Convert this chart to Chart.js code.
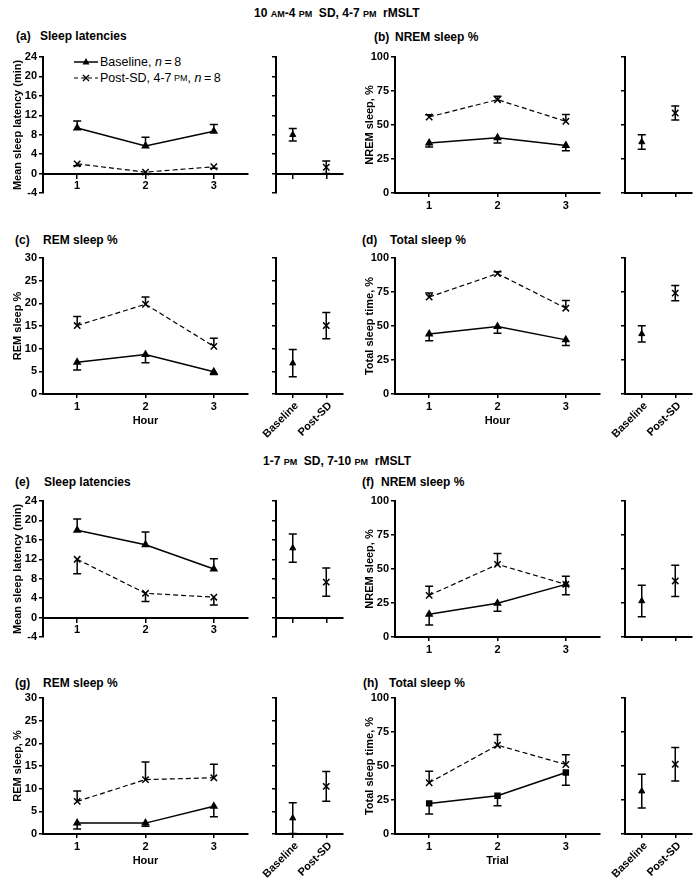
<!DOCTYPE html>
<html>
<head>
<meta charset="utf-8">
<script src="https://cdn.jsdelivr.net/npm/chart.js@4/dist/chart.umd.min.js"></script>
<style>
  body { margin: 0; background: #fff; width: 699px; height: 887px; position: relative; overflow: hidden;
         font-family: "Liberation Sans", Arial, sans-serif; }
  canvas { position: absolute; }
  .t { position: absolute; font-weight: bold; font-size: 12px; line-height: 14px; white-space: nowrap; }
  .sc { font-size: 9px; }
  .leg { position: absolute; left: 74px; font-size: 12.5px; line-height: 14px; white-space: nowrap; display: flex; align-items: center; }
  .leg svg { margin-right: 2px; }
</style>
</head>
<body>

<div class="t" style="left:254px;top:6px">10 <span class="sc">AM</span>-4 <span class="sc">PM</span>&nbsp; SD, 4-7 <span class="sc">PM</span>&nbsp; rMSLT</div>
<div class="t" style="left:263px;top:454px">1-7 <span class="sc">PM</span>&nbsp; SD, 7-10 <span class="sc">PM</span>&nbsp; rMSLT</div>

<div class="t" style="left:16px;top:29px">(a)</div><div class="t" style="left:40px;top:29px">Sleep latencies</div>
<div class="t" style="left:374px;top:30px">(b)</div><div class="t" style="left:395px;top:30px">NREM sleep %</div>
<div class="t" style="left:15px;top:233px">(c)</div><div class="t" style="left:43px;top:233px">REM sleep %</div>
<div class="t" style="left:362px;top:233px">(d)</div><div class="t" style="left:390px;top:233px">Total sleep %</div>
<div class="t" style="left:15px;top:475px">(e)</div><div class="t" style="left:44px;top:475px">Sleep latencies</div>
<div class="t" style="left:362px;top:475px">(f)</div><div class="t" style="left:381px;top:475px">NREM sleep %</div>
<div class="t" style="left:15px;top:676px">(g)</div><div class="t" style="left:43px;top:676px">REM sleep %</div>
<div class="t" style="left:363px;top:676px">(h)</div><div class="t" style="left:389px;top:676px">Total sleep %</div>

<div class="leg" style="top:55px">
  <svg width="24" height="10"><line x1="0" y1="5" x2="24" y2="5" stroke="#000" stroke-width="1.5"/><polygon points="12,1 15.5,7.5 8.5,7.5" fill="#000"/></svg>Baseline, <i>&nbsp;n</i>&thinsp;=&thinsp;8
</div>
<div class="leg" style="top:71px">
  <svg width="24" height="10"><line x1="0" y1="5" x2="24" y2="5" stroke="#000" stroke-width="1.2" stroke-dasharray="4,3"/><path d="M9,2 L15,8 M15,2 L9,8" stroke="#000" stroke-width="1.4"/></svg>Post-SD, 4-7 <span class="sc">&nbsp;PM</span>, <i>&nbsp;n</i>&thinsp;=&thinsp;8
</div>

<script>
// x categories
const hours = ['1', '2', '3'];
const groups = ['Baseline', 'Post-SD'];

// (a) sleep latencies, 10am-4pm SD
const aBase = [9.4, 5.7, 8.7];    const aBaseErr = [1.4, 1.8, 1.4];
const aPost = [2.0, 0.3, 1.4];    const aPostErr = [0.4, 0.3, 0.3];
const aSide = [8.0, 1.3];         const aSideErr = [1.3, 1.3];
// (b) NREM %
const bBase = [36.8, 40.7, 35.0]; const bBaseErr = [3, 4, 4];
const bPost = [55.9, 68.6, 52.7]; const bPostErr = [1.7, 2.5, 5];
const bSide = [37.5, 58.8];       const bSideErr = [5.3, 5.2];
// (c) REM %
const cBase = [7.0, 8.7, 4.9];    const cBaseErr = [1.7, 1.8, 0.6];
const cPost = [15.1, 19.8, 10.5]; const cPostErr = [2.0, 1.6, 1.8];
const cSide = [6.8, 15.1];        const cSideErr = [3.0, 2.9];
// (d) total sleep %
const dBase = [44.2, 49.6, 39.8]; const dBaseErr = [5, 5, 4.2];
const dPost = [71.3, 88.5, 63.1]; const dPostErr = [3, 1.3, 5.6];
const dSide = [44.2, 74.2];       const dSideErr = [6, 5.6];
// (e) sleep latencies, 1-7pm SD
const eBase = [18, 15, 10];       const eBaseErr = [2.3, 2.6, 2.1];
const ePost = [12, 5, 4.2];       const ePostErr = [3, 1.7, 1.6];
const eSide = [14.3, 7.3];        const eSideErr = [2.9, 2.9];
// (f) NREM %
const fBase = [16.7, 24.8, 38.7]; const fBaseErr = [7.9, 5.9, 7.6];
const fPost = [30.6, 53.4, 38.7]; const fPostErr = [6.7, 8, 6];
const fSide = [26.5, 41.2];       const fSideErr = [11.6, 11.5];
// (g) REM %
const gBase = [2.4, 2.4, 6.1];    const gBaseErr = [1.3, 0.7, 2.3];
const gPost = [7.2, 12.0, 12.4];  const gPostErr = [2.3, 3.9, 3.0];
const gSide = [3.5, 10.5];        const gSideErr = [3.4, 3.3];
// (h) total sleep %
const hBase = [22.5, 28.1, 45.2]; const hBaseErr = [7.8, 7.3, 9.3];
const hPost = [37.7, 65.3, 51.1]; const hPostErr = [8.5, 7.8, 7.1];
const hSide = [31.5, 51.3];       const hSideErr = [12.4, 12.3];

const FONT = '"Liberation Sans", Arial, sans-serif';
Chart.defaults.font.family = FONT;
Chart.defaults.color = '#000';

const AREA_H = 136;
const BOLD11 = { size: 11, weight: 'bold' };

// draws SEM bars; errDir 1 = up only, -1 = down only, 0 = both
const errorBars = {
  id: 'errorBars',
  afterDatasetsDraw(chart) {
    const ctx = chart.ctx, ys = chart.scales.y;
    chart.data.datasets.forEach((ds, di) => {
      if (!ds.err) return;
      const meta = chart.getDatasetMeta(di);
      ctx.save();
      ctx.strokeStyle = '#000';
      ctx.lineWidth = 1.5;
      ds.data.forEach((v, i) => {
        const e = ds.err[i], x = meta.data[i].x;
        const hi = ds.errDir >= 0 ? v + e : v;
        const lo = ds.errDir <= 0 ? v - e : v;
        const yHi = ys.getPixelForValue(hi), yLo = ys.getPixelForValue(lo);
        ctx.beginPath();
        ctx.moveTo(x, yHi); ctx.lineTo(x, yLo);
        if (hi !== v) { ctx.moveTo(x - 4, yHi); ctx.lineTo(x + 4, yHi); }
        if (lo !== v) { ctx.moveTo(x - 4, yLo); ctx.lineTo(x + 4, yLo); }
        ctx.stroke();
      });
      ctx.restore();
    });
  }
};

// 45 degree category labels under the side panels
const slantLabels = {
  id: 'slantLabels',
  afterDraw(chart, args, opts) {
    if (!opts.show) return;
    const ctx = chart.ctx, xs = chart.scales.x;
    ctx.save();
    ctx.font = 'bold 11px ' + FONT;
    ctx.fillStyle = '#000';
    ctx.textAlign = 'right';
    ctx.textBaseline = 'middle';
    chart.data.labels.forEach((lab, i) => {
      ctx.save();
      ctx.translate(xs.getPixelForTick(i) + 4, xs.top + 10);
      ctx.rotate(-Math.PI / 4);
      ctx.fillText(lab, 0, 0);
      ctx.restore();
    });
    ctx.restore();
  }
};

function addCanvas(left, top, w, h) {
  const c = document.createElement('canvas');
  c.width = w; c.height = h;
  c.style.left = left + 'px'; c.style.top = top + 'px';
  c.style.width = w + 'px'; c.style.height = h + 'px';
  document.body.appendChild(c);
  return c;
}

const axisGrid = { drawOnChartArea: false, drawTicks: true, tickLength: 4, color: '#000', lineWidth: 1.5 };
const axisBorder = { color: '#000', width: 2 };

function yScale(p, yW, showTicks) {
  return {
    min: p.min, max: p.max,
    ticks: { stepSize: p.step, font: BOLD11, padding: 2, display: showTicks },
    grid: axisGrid, border: axisBorder,
    title: { display: showTicks, text: p.yTitle, font: BOLD11, padding: { top: 13, bottom: 0 } },
    afterFit: s => { s.width = yW; s.paddingTop = 0; s.paddingBottom = 0; }
  };
}

function makeMain(p) {
  const yW = 45, padT = 8, padR = 6, areaW = 205;
  const xH = p.xAtZero ? 0 : (p.xTitle ? 36 : 24);
  const padB = p.xAtZero ? 22 : 0;
  const cv = addCanvas(p.x - yW, p.y - padT, yW + areaW + padR, padT + AREA_H + xH + padB);
  new Chart(cv, {
    type: 'line',
    data: {
      labels: hours,
      datasets: [
        { data: p.base, err: p.baseErr, errDir: p.baseDir, borderColor: '#000', backgroundColor: '#000',
          borderWidth: 1.5, pointStyle: p.baseMarker || 'triangle', pointRadius: 3.5, clip: false },
        { data: p.post, err: p.postErr, errDir: -p.baseDir, borderColor: '#000', backgroundColor: '#000',
          borderWidth: 1.2, borderDash: [5, 3], pointStyle: 'crossRot', pointRadius: 4.5,
          pointBorderWidth: 1.5, clip: false }
      ]
    },
    options: {
      responsive: false, animation: false, events: [],
      layout: { padding: { top: padT, right: padR, bottom: padB, left: 0 } },
      plugins: { legend: { display: false }, tooltip: { enabled: false } },
      scales: {
        x: {
          type: 'category', offset: true,
          position: p.xAtZero ? { y: 0 } : 'bottom',
          ticks: { font: BOLD11, padding: 2, maxRotation: 0 },
          grid: Object.assign({}, axisGrid, { offset: false }), border: axisBorder,
          title: { display: !!p.xTitle, text: p.xTitle || '', font: BOLD11, padding: { top: 0, bottom: 2 } },
          afterFit: s => { if (!p.xAtZero) s.height = xH; s.paddingLeft = 0; s.paddingRight = 0; }
        },
        y: yScale(p, yW, true)
      }
    },
    plugins: [errorBars]
  });
}

function makeSide(p) {
  const yW = 7, padL = 44, padT = 8, padR = 6, areaW = 67;
  const xH = p.xAtZero ? 0 : (p.labels ? 56 : 10);
  const padB = p.xAtZero ? 22 : 0;
  const cv = addCanvas(p.sx - yW - padL, p.y - padT, padL + yW + areaW + padR, padT + AREA_H + xH + padB);
  new Chart(cv, {
    type: 'line',
    data: {
      labels: groups,
      datasets: [{
        data: p.side, err: p.sideErr, errDir: 0, showLine: false,
        pointStyle: ['triangle', 'crossRot'], pointRadius: [3.5, 4.5], pointBorderWidth: [1, 1.5],
        borderColor: '#000', backgroundColor: '#000', clip: false
      }]
    },
    options: {
      responsive: false, animation: false, events: [],
      layout: { padding: { top: padT, right: padR, bottom: padB, left: padL } },
      plugins: { legend: { display: false }, tooltip: { enabled: false }, slantLabels: { show: !!p.labels } },
      scales: {
        x: {
          type: 'category', offset: true,
          position: p.xAtZero ? { y: 0 } : 'bottom',
          ticks: { display: false },
          grid: Object.assign({}, axisGrid, { offset: false }), border: axisBorder,
          afterFit: s => { if (!p.xAtZero) s.height = xH; s.paddingLeft = 0; s.paddingRight = 0; }
        },
        y: yScale(p, yW, false)
      }
    },
    plugins: [errorBars, slantLabels]
  });
}

const LAT = { min: -4, max: 24, step: 4, yTitle: 'Mean sleep latency (min)' };
const PCT = { min: 0, max: 100, step: 25 };
const REM = { min: 0, max: 30, step: 5 };

const panels = [
  Object.assign({}, LAT, { x: 43, sx: 276, y: 57, xAtZero: true, base: aBase, baseErr: aBaseErr, post: aPost, postErr: aPostErr, side: aSide, sideErr: aSideErr, baseDir: 1 }),
  Object.assign({}, PCT, { x: 395, sx: 625, y: 57, yTitle: 'NREM sleep, %', base: bBase, baseErr: bBaseErr, post: bPost, postErr: bPostErr, side: bSide, sideErr: bSideErr, baseDir: -1 }),
  Object.assign({}, REM, { x: 43, sx: 276, y: 258, yTitle: 'REM sleep %', xTitle: 'Hour', labels: true, base: cBase, baseErr: cBaseErr, post: cPost, postErr: cPostErr, side: cSide, sideErr: cSideErr, baseDir: -1 }),
  Object.assign({}, PCT, { x: 395, sx: 625, y: 258, yTitle: 'Total sleep time, %', xTitle: 'Hour', labels: true, base: dBase, baseErr: dBaseErr, post: dPost, postErr: dPostErr, side: dSide, sideErr: dSideErr, baseDir: -1 }),
  Object.assign({}, LAT, { x: 43, sx: 276, y: 501, xAtZero: true, base: eBase, baseErr: eBaseErr, post: ePost, postErr: ePostErr, side: eSide, sideErr: eSideErr, baseDir: 1 }),
  Object.assign({}, PCT, { x: 395, sx: 625, y: 501, yTitle: 'NREM sleep, %', base: fBase, baseErr: fBaseErr, post: fPost, postErr: fPostErr, side: fSide, sideErr: fSideErr, baseDir: -1 }),
  Object.assign({}, REM, { x: 43, sx: 276, y: 698, yTitle: 'REM sleep, %', xTitle: 'Hour', labels: true, base: gBase, baseErr: gBaseErr, post: gPost, postErr: gPostErr, side: gSide, sideErr: gSideErr, baseDir: -1 }),
  Object.assign({}, PCT, { x: 395, sx: 625, y: 698, yTitle: 'Total sleep time, %', xTitle: 'Trial', labels: true, baseMarker: 'rect', base: hBase, baseErr: hBaseErr, post: hPost, postErr: hPostErr, side: hSide, sideErr: hSideErr, baseDir: -1 })
];

panels.forEach(p => { makeMain(p); makeSide(p); });
</script>
</body>
</html>
